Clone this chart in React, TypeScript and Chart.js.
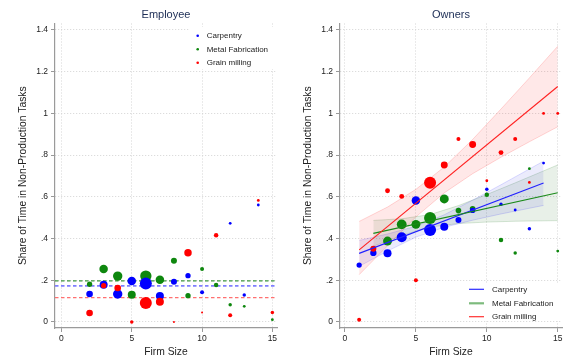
import React, { useEffect, useRef } from "react";
import { Chart, registerables } from "chart.js";

Chart.register(...registerables);

// ---------- data ----------
const firmSizes = [1, 2, 3, 4, 5, 6, 7, 8, 9, 10, 11, 12, 13, 14, 15];
const xTickValues = [0, 5, 10, 15];
const yTickValues = [0, 0.2, 0.4, 0.6, 0.8, 1, 1.2, 1.4];
const yTickLabels = ["0", ".2", ".4", ".6", ".8", "1", "1.2", "1.4"];
const industries = ["Carpentry", "Metal Fabrication", "Grain milling"];
const panelTitles = ["Employee", "Owners"];
const xTitle = "Firm Size";
const yTitle = "Share of Time in Non-Production Tasks";

// Employee panel (share, and firm counts used for marker size)
const empCarpentry = [null, 0.134, 0.179, 0.134, 0.197, 0.184, 0.125, 0.193, 0.222, 0.142, null, 0.473, 0.129, 0.561, null];
const empCarpentryN = [0, 11, 16, 22, 18, 36, 16, 9, 7, 4, 0, 2, 3, 2, 0];
const empMetal = [null, 0.181, 0.254, 0.22, 0.131, 0.22, 0.203, 0.294, 0.126, 0.254, 0.177, 0.083, 0.075, null, 0.011];
const empMetalN = [0, 7, 18, 22, 16, 32, 18, 9, 7, 4, 5, 3, 2, 0, 2];
const empGrain = [null, 0.043, 0.174, 0.163, 0.0, 0.091, 0.097, 0.0, 0.332, 0.045, 0.416, 0.032, null, 0.583, 0.045];
const empGrainN = [0, 11, 7, 11, 3, 36, 16, 1, 14, 1, 5, 4, 0, 2, 3];
const empMeans = [0.173, 0.197, 0.117];

// Owners panel
const ownCarpentry = [0.273, 0.331, 0.329, 0.406, 0.583, 0.441, 0.457, 0.489, 0.535, 0.636, 0.564, 0.537, 0.447, 0.762, null];
const ownCarpentryN = [7, 10, 16, 25, 18, 36, 16, 9, 7, 3, 3, 2, 3, 2, 0];
const ownMetal = [null, 0.35, 0.388, 0.468, 0.468, 0.498, 0.59, 0.534, 0.543, 0.61, 0.393, 0.331, 0.735, null, 0.34];
const ownMetalN = [0, 7, 20, 24, 20, 36, 20, 8, 8, 5, 5, 3, 2, 0, 2];
const ownGrain = [0.011, 0.351, 0.629, 0.602, 0.2, 0.668, 0.753, 0.877, 0.851, 0.677, 0.812, 0.877, 0.669, 1.0, 1.0];
const ownGrainN = [4, 9, 6, 6, 4, 36, 12, 4, 12, 2, 6, 4, 2, 2, 2];

// Linear fits and confidence bands (owners)
const carpFitX = [1, 14];
const carpFitY = [0.329, 0.666];
const carpCiX = [1, 3, 5, 7, 9, 11, 14];
const carpCiHi = [0.391, 0.422, 0.459, 0.514, 0.584, 0.658, 0.771];
const carpCiLo = [0.267, 0.34, 0.407, 0.454, 0.488, 0.518, 0.559];

const metalFitX = [2, 15];
const metalFitY = [0.425, 0.62];
const metalCiX = [2, 4, 6, 8, 10, 12, 15];
const metalCiHi = [0.487, 0.495, 0.515, 0.558, 0.611, 0.667, 0.753];
const metalCiLo = [0.363, 0.415, 0.455, 0.472, 0.479, 0.483, 0.486];

const grainFitX = [1, 15];
const grainFitY = [0.346, 1.129];
const grainCiX = [1, 3, 5, 7, 9, 11, 13, 15];
const grainCiHi = [0.482, 0.551, 0.636, 0.743, 0.875, 1.021, 1.17, 1.322];
const grainCiLo = [0.227, 0.365, 0.504, 0.619, 0.711, 0.79, 0.864, 0.936];

// ---------- styles ----------
const FONT = '"Liberation Sans", Arial, Helvetica, sans-serif';
const BLUE = "#0000ff";
const GREEN = "#0e870e";
const RED = "#ff0000";
const seriesColors = [BLUE, GREEN, RED];

Chart.defaults.font.family = FONT;

function buildPoints(vals: (number | null)[], ns: number[]) {
  const out: { x: number; y: number; n: number }[] = [];
  firmSizes.forEach((x, i) => {
    const v = vals[i];
    if (v !== null && v !== undefined) out.push({ x, y: v, n: ns[i] });
  });
  return out;
}
const lineData = (xs: number[], ys: number[]) => xs.map((x, i) => ({ x, y: ys[i] }));
const radiusOf = (ctx: any) => Math.sqrt(ctx.raw && ctx.raw.n ? ctx.raw.n : 1);

function scatterSet(label: string, vals: (number | null)[], ns: number[], color: string, order: number) {
  return {
    type: "scatter",
    label,
    data: buildPoints(vals, ns),
    backgroundColor: color,
    borderWidth: 0,
    pointRadius: radiusOf,
    pointHoverRadius: radiusOf,
    order,
  };
}

function lineSet(xs: number[], ys: number[], color: string, width: number, order: number, dash: number[] = []) {
  return {
    type: "line",
    data: lineData(xs, ys),
    borderColor: color,
    borderWidth: width,
    borderDash: dash,
    pointRadius: 0,
    pointHoverRadius: 0,
    fill: false,
    tension: 0,
    order,
  };
}

function bandSets(xs: number[], hi: number[], lo: number[], fillColor: string, edgeColor: string, order: number) {
  return [
    {
      type: "line",
      data: lineData(xs, hi),
      borderColor: edgeColor,
      borderWidth: 0.8,
      backgroundColor: fillColor,
      pointRadius: 0,
      pointHoverRadius: 0,
      fill: "+1",
      tension: 0,
      order,
    },
    {
      type: "line",
      data: lineData(xs, lo),
      borderColor: edgeColor,
      borderWidth: 0.8,
      pointRadius: 0,
      pointHoverRadius: 0,
      fill: false,
      tension: 0,
      order: order + 1,
    },
  ];
}

function decorPlugin(title: string, legend: "dots" | "lines") {
  return {
    id: "panelDecor",
    afterDraw(chart: any) {
      const { ctx, chartArea } = chart;
      ctx.save();
      ctx.font = `11px ${FONT}`;
      ctx.fillStyle = "#1c2d55";
      ctx.textAlign = "center";
      ctx.textBaseline = "middle";
      ctx.fillText(title, (chartArea.left + chartArea.right) / 2, 15);

      ctx.font = `8px ${FONT}`;
      ctx.textAlign = "left";
      if (legend === "dots") {
        const ys = [35.7, 49.3, 62.7];
        ctx.fillStyle = "#ffffff";
        ctx.fillRect(190, 27, chartArea.right - 190, 42);
        industries.forEach((name, i) => {
          ctx.fillStyle = seriesColors[i];
          ctx.beginPath();
          ctx.arc(197.7, ys[i], 1.3, 0, Math.PI * 2);
          ctx.fill();
          ctx.fillStyle = "#222";
          ctx.fillText(name, 206.7, ys[i]);
        });
      } else {
        const ys = [289.3, 303.3, 316.7];
        const lc = ["#2a2aff", "#7dbb7d", "#ff3030"];
        const lw = [1.2, 2.2, 1.2];
        ctx.fillStyle = "#ffffff";
        ctx.fillRect(178, 283, chartArea.right - 178, 38);
        industries.forEach((name, i) => {
          ctx.strokeStyle = lc[i];
          ctx.lineWidth = lw[i];
          ctx.beginPath();
          ctx.moveTo(184, ys[i]);
          ctx.lineTo(199, ys[i]);
          ctx.stroke();
          ctx.fillStyle = "#222";
          ctx.fillText(name, 207, ys[i]);
        });
      }
      ctx.restore();
    },
  };
}

function baseOptions(xMin: number, xMax: number) {
  return {
    animation: false,
    responsive: false,
    devicePixelRatio: 1,
    layout: { padding: { top: 23.5, right: 8, bottom: 0, left: 0 } },
    plugins: { legend: { display: false }, tooltip: { enabled: false } },
    scales: {
      x: {
        type: "linear",
        min: xMin,
        max: xMax,
        afterBuildTicks: (s: any) => {
          s.ticks = xTickValues.map((v) => ({ value: v }));
        },
        afterFit: (s: any) => {
          s.height = 30;
        },
        grid: { color: "#d4d4d4", lineWidth: 1, drawTicks: true, tickLength: 4, tickColor: "#999", tickWidth: 1, tickBorderDash: [] },
        border: { display: true, color: "#9a9a9a", width: 1.2, dash: [1, 2] },
        ticks: { font: { size: 8.5 }, color: "#222", padding: 2, maxRotation: 0, autoSkip: false, callback: (v: any) => String(v) },
        title: { display: true, text: xTitle, font: { size: 10.3 }, color: "#222", padding: { top: 0, bottom: 0 } },
      },
      y: {
        type: "linear",
        min: -0.0288,
        max: 1.431,
        afterBuildTicks: (s: any) => {
          s.ticks = yTickValues.map((v) => ({ value: v }));
        },
        afterFit: (s: any) => {
          s.width = 55;
        },
        grid: { color: "#d4d4d4", lineWidth: 1, drawTicks: true, tickLength: 4, tickColor: "#999", tickWidth: 1, tickBorderDash: [] },
        border: { display: true, color: "#9a9a9a", width: 1.2, dash: [1, 2] },
        ticks: {
          font: { size: 8.5 },
          color: "#222",
          padding: 3,
          autoSkip: false,
          callback: (v: any) => {
            const i = yTickValues.findIndex((t) => Math.abs(t - v) < 1e-9);
            return i >= 0 ? yTickLabels[i] : "";
          },
        },
        title: { display: true, text: yTitle, font: { size: 10.3 }, color: "#222", padding: { top: 17, bottom: 0 } },
      },
    },
  };
}

function employeeConfig(): any {
  const xMin = -0.46;
  const xMax = 15.33;
  return {
    type: "scatter",
    data: {
      datasets: [
        lineSet([xMin, xMax], [empMeans[0], empMeans[0]], "#7f7fff", 1.8, 10, [3.5, 2.5]),
        lineSet([xMin, xMax], [empMeans[1], empMeans[1]], "#3c963c", 1.3, 11, [3.5, 2.5]),
        lineSet([xMin, xMax], [empMeans[2], empMeans[2]], "#ff7070", 1.3, 12, [3.5, 2.5]),
        scatterSet(industries[2], empGrain, empGrainN, RED, 3),
        scatterSet(industries[0], empCarpentry, empCarpentryN, BLUE, 4),
        scatterSet(industries[1], empMetal, empMetalN, GREEN, 5),
      ],
    },
    options: baseOptions(xMin, xMax),
    plugins: [decorPlugin(panelTitles[0], "dots")],
  };
}

function ownersConfig(): any {
  const xMin = -0.35;
  const xMax = 15.3;
  return {
    type: "scatter",
    data: {
      datasets: [
        ...bandSets(grainCiX, grainCiHi, grainCiLo, "rgba(255,0,0,0.09)", "rgba(255,0,0,0.2)", 20),
        ...bandSets(carpCiX, carpCiHi, carpCiLo, "rgba(0,0,220,0.08)", "rgba(0,0,255,0.18)", 22),
        ...bandSets(metalCiX, metalCiHi, metalCiLo, "rgba(0,90,0,0.09)", "rgba(0,110,0,0.2)", 24),
        lineSet(grainFitX, grainFitY, "#ff2020", 1.1, 0),
        lineSet(metalFitX, metalFitY, "#1a8a1a", 1.1, 1),
        lineSet(carpFitX, carpFitY, "#2020ff", 1.1, 2),
        scatterSet(industries[2], ownGrain, ownGrainN, RED, 3),
        scatterSet(industries[0], ownCarpentry, ownCarpentryN, BLUE, 4),
        scatterSet(industries[1], ownMetal, ownMetalN, GREEN, 5),
      ],
    },
    options: baseOptions(xMin, xMax),
    plugins: [decorPlugin(panelTitles[1], "lines")],
  };
}

export default function App() {
  const leftRef = useRef<HTMLCanvasElement>(null);
  const rightRef = useRef<HTMLCanvasElement>(null);

  useEffect(() => {
    const charts: Chart[] = [];
    if (leftRef.current) charts.push(new Chart(leftRef.current, employeeConfig()));
    if (rightRef.current) charts.push(new Chart(rightRef.current, ownersConfig()));
    return () => charts.forEach((c) => c.destroy());
  }, []);

  return (
    <div style={{ position: "absolute", left: 0, top: 0, width: 570, height: 358, background: "#ffffff" }}>
      <canvas ref={leftRef} width={285} height={358} style={{ position: "absolute", left: 0, top: 0, width: 285, height: 358, display: "block" }} />
      <canvas ref={rightRef} width={285} height={358} style={{ position: "absolute", left: 285, top: 0, width: 285, height: 358, display: "block" }} />
    </div>
  );
}
